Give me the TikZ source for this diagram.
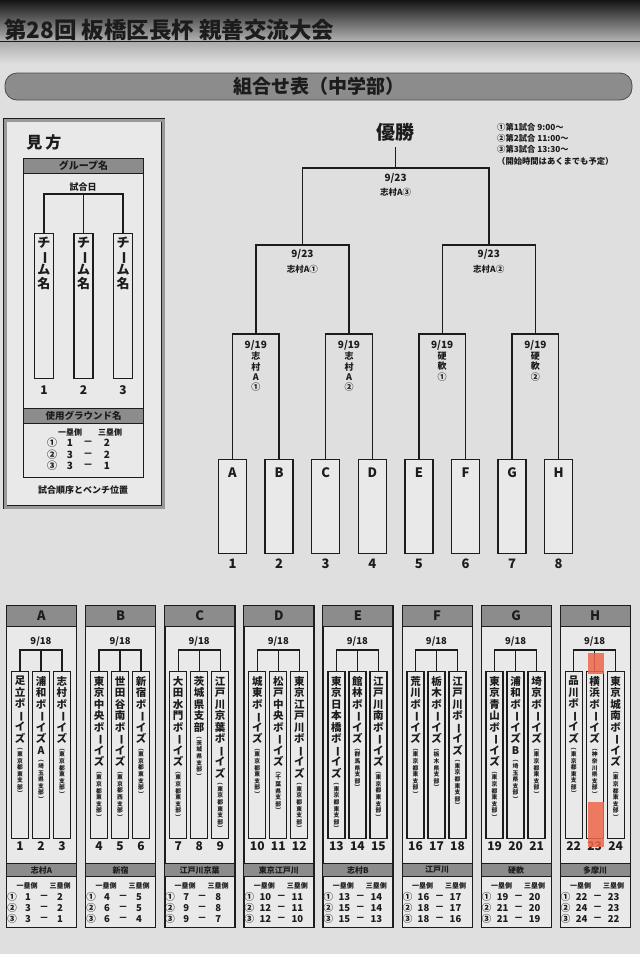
\documentclass[tikz,border=0pt]{standalone}
\usepackage{fontspec}
\setmainfont{Noto Sans CJK JP}
\usepackage{graphicx}
\usetikzlibrary{calc}
\definecolor{bg}{HTML}{DFDFDF}
\definecolor{boxf}{HTML}{E9E9E9}
\definecolor{band}{HTML}{8C8C8C}
\definecolor{ink}{HTML}{1C1C1C}
\definecolor{hl}{HTML}{F0664A}
\newcommand\fsz[1]{\fontsize{#1}{#1}\selectfont\bfseries}
\ExplSyntaxOn
\cs_new_protected:Npn \vt_char:n #1
  { \tl_if_in:nnTF { ー（）() } {#1} { \rotatebox[origin=c]{-90}{#1} } {#1} }
\cs_new_protected:Npn \vt_part:nnn #1#2#3
  {
    \fontsize{#1}{#2}\selectfont \bfseries
    \baselineskip=#2pt \lineskiplimit=-100pt \lineskip=0pt
    \tl_map_inline:nn {#3} { \hbox_to_wd:nn {20pt} { \hss \vt_char:n {##1} \hss } }
  }
\cs_generate_variant:Nn \vt_part:nnn { nne }
\NewDocumentCommand \vcol { O{11} O{11.5} m } { \vbox{ \vt_part:nne {#1}{#2}{#3} } }
\NewDocumentCommand \tname { m m }
  { \vbox{ \vt_part:nne {10.5}{11.5}{#1} \skip_vertical:n {1pt} \vt_part:nne {5.8}{6.6}{#2} } }
\ExplSyntaxOff
\begin{document}
\begin{tikzpicture}[x=1pt,y=-1pt,
  ln/.style={draw=ink,line width=1.4pt},
  t/.style={inner sep=0pt,text=ink},
  bandbox/.style={draw=ink,line width=1pt,fill=band,inner sep=0pt,anchor=north west,text=ink},
  tbox/.style={draw=ink,line width=1.3pt,fill=boxf,inner sep=0pt,anchor=north},
]
\useasboundingbox (0,0) rectangle (640,954);
\fill[bg] (0,0) rectangle (640,954);
\shade[top color=black!92,bottom color=black!30] (0,0) rectangle (640,41);
\shade[top color=black!33,bottom color=bg] (0,41) rectangle (640,64);
\node[t,anchor=base west,font=\fsz{22.5}] (title) at (4,38.5) {第28回 板橋区長杯 親善交流大会};
\draw[line width=1.2pt,ink] (0,41.5) -- (640,41.5);
% banner
\node[draw=black!70,line width=0.8pt,fill=black!45,rounded corners=12pt,minimum width=627pt,minimum height=27pt,inner sep=0pt,text=ink,font=\fsz{19}] (banner) at (318.5,86.5) {組合せ表（中学部）};
% legend
\node[draw=ink,line width=0.7pt,double=black!40,double distance=2.6pt,fill=boxf,minimum width=158pt,minimum height=387pt,anchor=north west,inner sep=0pt] (legend) at (5,120) {};
\node[t,font=\fsz{16}] (mikata) at (44,142) {見\hspace{3pt}方};
\node[draw=ink,line width=1.2pt,fill=boxf,minimum width=120pt,minimum height=319pt,anchor=north west,inner sep=0pt] (lgin) at (23,158) {};
\node[bandbox,minimum width=120pt,minimum height=15pt,font=\fsz{10}] (lghd) at (23,158) {グループ名};
\node[t,font=\fsz{9}] (lgdate) at (83,187.5) {試合日};
\foreach \i/\x in {1/44,2/83.5,3/123}{
  \node[tbox,minimum width=19pt,minimum height=145pt] (lt\i) at (\x,233) {};
  \node[t,anchor=north] (ltn\i) at (\x,237) {\vcol[13][13.5]{チーム名}};
  \node[t,font=\fsz{12}] (ltk\i) at (\x,390) {\i};
}
\draw[ln] (lt1.north) -- ++(0,-39) -| (lt3.north);
\draw[ln] (lt2.north) -- ++(0,-39);
\node[bandbox,minimum width=120pt,minimum height=15pt,font=\fsz{9.5}] (lgband) at (23,408) {使用グラウンド名};
\node[t,font=\fsz{8}] (lgh1) at (70,432) {一塁側};
\node[t,font=\fsz{8}] (lgh3) at (110,432) {三塁側};
\foreach \r/\c/\a/\b/\y in {1/①/1/2/443,2/②/3/2/455,3/③/3/1/466}{
  \node[t,font=\fsz{10}] (lgc\r) at (52,\y) {\c};
  \node[t,font=\fsz{10}] (lga\r) at (70,\y) {\a};
  \node[t,font=\fsz{10}] (lgm\r) at (88,\y) {－};
  \node[t,font=\fsz{10}] (lgb\r) at (107,\y) {\b};
}
\node[t,font=\fsz{9}] (lgfoot) at (83,490) {試合順序とベンチ位置};
% main bracket
\foreach \i/\L in {0/A,1/B,2/C,3/D,4/E,5/F,6/G,7/H}{
  \pgfmathsetmacro\x{232.5+46.6*\i}
  \pgfmathtruncatemacro\k{\i+1}
  \node[tbox,minimum width=28pt,minimum height=94pt] (m\L) at (\x,459) {};
  \node[t,font=\fsz{13}] (mL\L) at (\x,473) {\L};
  \node[t,font=\fsz{13}] (mN\L) at (\x,564) {\k};
}
\draw[ln] (mA.north) -- ++(0,-125) -| (mB.north);
\draw[ln] (mC.north) -- ++(0,-125) -| (mD.north);
\draw[ln] (mE.north) -- ++(0,-125) -| (mF.north);
\draw[ln] (mG.north) -- ++(0,-125) -| (mH.north);
\coordinate (q1) at ($(mA.north)!.5!(mB.north)+(0,-125)$);
\coordinate (q2) at ($(mC.north)!.5!(mD.north)+(0,-125)$);
\coordinate (q3) at ($(mE.north)!.5!(mF.north)+(0,-125)$);
\coordinate (q4) at ($(mG.north)!.5!(mH.north)+(0,-125)$);
\draw[ln] (q1) -- ++(0,-89) -| (q2);
\draw[ln] (q3) -- ++(0,-89) -| (q4);
\coordinate (s1) at ($(q1)!.5!(q2)+(0,-89)$);
\coordinate (s2) at ($(q3)!.5!(q4)+(0,-89)$);
\draw[ln] (s1) -- ++(0,-77) -| (s2);
\coordinate (f) at ($(s1)!.5!(s2)+(0,-77)$);
\coordinate (ctop) at ($(f)+(0,-21)$);
\draw[ln] (f) -- (ctop);
\node[t,font=\fsz{19}] (champ) at (395.6,132) {優勝};
\node[t,font=\fsz{10}] (fd) at ($(f)+(0,10)$) {9/23};
\node[t,font=\fsz{8.5}] (fg) at ($(f)+(0,24)$) {志村A③};
\node[t,font=\fsz{10}] (s1d) at ($(s1)+(0,9)$) {9/23};
\node[t,font=\fsz{8.5}] (s1g) at ($(s1)+(0,24)$) {志村A①};
\node[t,font=\fsz{10}] (s2d) at ($(s2)+(0,9)$) {9/23};
\node[t,font=\fsz{8.5}] (s2g) at ($(s2)+(0,24)$) {志村A②};
\foreach \q/\txt in {1/志村A①,2/志村A②,3/硬軟①,4/硬軟②}{
  \node[t,font=\fsz{10}] (qd\q) at ($(q\q)+(0,11)$) {9/19};
  \node[t,anchor=north] (qg\q) at ($(q\q)+(0,18)$) {\vcol[9][10.3]{\txt}};
}
\node[t,anchor=north west,align=left,font=\fontsize{8.3}{11.3}\selectfont\bfseries] (notes) at (497,123)
  {①第1試合 9:00～\\②第2試合 11:00～\\③第3試合 13:30～\\（開始時間はあくまでも予定）};
% groups
\foreach \g/\L/\G in {0/A/志村A,1/B/新宿,2/C/江戸川京葉,3/D/東京江戸川,4/E/志村B,5/F/江戸川,6/G/硬軟,7/H/多摩川}{
  \pgfmathsetmacro\xl{6+79.1*\g}
  \pgfmathtruncatemacro\na{3*\g+1}
  \pgfmathtruncatemacro\nb{3*\g+2}
  \pgfmathtruncatemacro\nc{3*\g+3}
  \node[draw=ink,line width=1.3pt,fill=boxf,minimum width=70pt,minimum height=322pt,anchor=north west,inner sep=0pt] (grp\L) at (\xl,605) {};
  \node[bandbox,minimum width=70pt,minimum height=21pt,font=\fsz{13}] (ghd\L) at (\xl,605) {\L};
  \node[t,font=\fsz{9.5}] (gdt\L) at (\xl+35,641) {9/18};
  \node[bandbox,minimum width=70pt,minimum height=13pt,font=\fsz{8}] (ggr\L) at (\xl,863) {\G};
  \node[t,font=\fsz{7}] (gha\L) at (\xl+21,886) {一塁側};
  \node[t,font=\fsz{7}] (ghb\L) at (\xl+54,886) {三塁側};
  \foreach \r/\c/\p/\s/\y in {1/①/\na/\nb/897,2/②/\nc/\nb/908,3/③/\nc/\na/919}{
    \node[t,font=\fsz{9.5}] (gc\L\r) at (\xl+6,\y) {\c};
    \node[t,font=\fsz{9.5}] (gp\L\r) at (\xl+22,\y) {\p};
    \node[t,font=\fsz{9.5}] (gm\L\r) at (\xl+38,\y) {－};
    \node[t,font=\fsz{9.5}] (gs\L\r) at (\xl+54,\y) {\s};
  }
}
\foreach \n/\g/\j/\nm/\sm in {
1/0/0/足立ボーイズ/（東京都東支部）,
2/0/1/浦和ボーイズA/（埼玉県支部）,
3/0/2/志村ボーイズ/（東京都東支部）,
4/1/0/東京中央ボーイズ/（東京都東支部）,
5/1/1/世田谷南ボーイズ/（東京都西支部）,
6/1/2/新宿ボーイズ/（東京都東支部）,
7/2/0/大田水門ボーイズ/（東京都東支部）,
8/2/1/茨城県支部/（茨城県支部）,
9/2/2/江戸川京葉ボーイズ/（東京都東支部）,
10/3/0/城東ボーイズ/（東京都東支部）,
11/3/1/松戸中央ボーイズ/（千葉県支部）,
12/3/2/東京江戸川ボーイズ/（東京都東支部）,
13/4/0/東京日本橋ボーイズ/（東京都東支部）,
14/4/1/館林ボーイズ/（群馬県支部）,
15/4/2/江戸川南ボーイズ/（東京都東支部）,
16/5/0/荒川ボーイズ/（東京都東支部）,
17/5/1/栃木ボーイズ/（栃木県支部）,
18/5/2/江戸川ボーイズ/（東京都東支部）,
19/6/0/東京青山ボーイズ/（東京都東支部）,
20/6/1/浦和ボーイズB/（埼玉県支部）,
21/6/2/埼京ボーイズ/（東京都東支部）,
22/7/0/品川ボーイズ/（東京都東支部）,
23/7/1/横浜ボーイズ/（神奈川県支部）,
24/7/2/東京城南ボーイズ/（東京都東支部）}{
  \pgfmathsetmacro\x{20+79.1*\g+21*\j}
  \node[tbox,minimum width=17pt,minimum height=167pt] (tm\n) at (\x,671) {};
  \node[t,anchor=north] (tt\n) at (\x,676) {\tname{\nm}{\sm}};
  \node[t,font=\fsz{12}] (tn\n) at (\x,846) {\n};
}
\foreach \g in {0,...,7}{
  \pgfmathtruncatemacro\na{3*\g+1}
  \pgfmathtruncatemacro\nb{3*\g+2}
  \pgfmathtruncatemacro\nc{3*\g+3}
  \draw[ln,line width=1.3pt] (tm\na.north) -- ++(0,-21) -| (tm\nc.north);
  \draw[ln,line width=1.3pt] (tm\nb.north) -- ++(0,-21);
}
\fill[hl,opacity=.85] (588,653) rectangle (604,674);
\fill[hl,opacity=.85] (588,802) rectangle (604,847);
\end{tikzpicture}
\end{document}
